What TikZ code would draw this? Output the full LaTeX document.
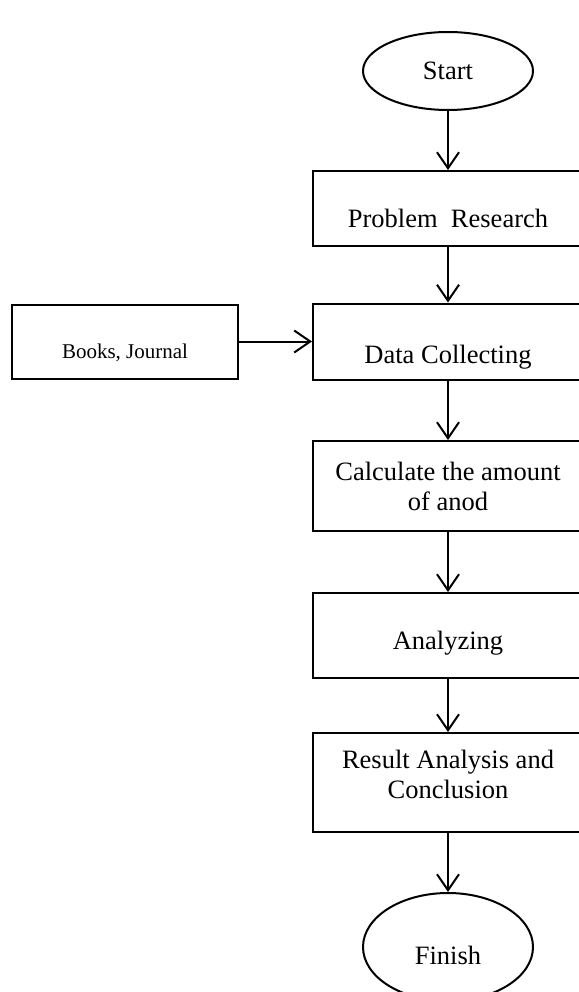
\documentclass[tikz,border=0pt]{standalone}
\usepackage{fontspec}
\setmainfont{Liberation Serif}
\usetikzlibrary{arrows.meta, shapes.geometric}
\tikzset{
  stepbox/.style={draw, line width=2pt, align=center, inner sep=0pt, minimum width=270pt,
                  font=\fontsize{26.5}{30}\selectfont},
  term/.style={draw, ellipse, line width=2pt, inner sep=0pt, minimum width=170pt,
               font=\fontsize{26.5}{30}\selectfont},
  flow/.style={-{Straight Barb[length=16pt, width=22pt, line width=2pt]}, line width=2pt},
}

\begin{document}
\begin{tikzpicture}[x=1pt, y=-1pt]
    \useasboundingbox (0,0) rectangle (578,992);
    \node[term, minimum height=78pt] (start) at (448,71) {Start};
    \node[stepbox, minimum height=75pt, text depth=6pt, text height=44pt] (research) at (448,208.5) {Problem\ \ Research};
    \node[stepbox, minimum height=76pt, text depth=6pt, text height=50pt] (data) at (448,341.5) {Data Collecting};
    \node[stepbox, minimum width=226pt, minimum height=74pt, text depth=4.6pt, text height=38pt,
          font=\fontsize{21}{24}\selectfont] (books) at (125,341.5) {Books, Journal};
    \node[stepbox, minimum height=90pt] (calc) at (448,486) {Calculate the amount\\of anod};
    \node[stepbox, minimum height=85pt, text depth=6pt, text height=34pt] (analyze) at (448,635.5) {Analyzing};
    \node[stepbox, minimum height=99pt, text depth=16pt] (result) at (448,782.5) {Result Analysis and\\Conclusion};
    \node[term, minimum height=108pt, text depth=6pt, text height=40pt] (finish) at (448,947) {Finish};
    \draw[flow] (start) -- (research);
    \draw[flow] (research) -- (data);
    \draw[flow] (books) -- (data);
    \draw[flow] (data) -- (calc);
    \draw[flow] (calc) -- (analyze);
    \draw[flow] (analyze) -- (result);
    \draw[flow] (result) -- (finish);
  \end{tikzpicture}
\end{document}
